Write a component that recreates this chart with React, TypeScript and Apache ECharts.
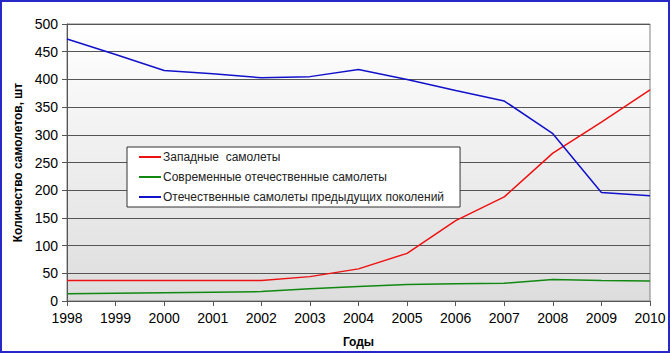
import React, { useEffect, useRef } from "react";
import * as echarts from "echarts";

const years = ["1998", "1999", "2000", "2001", "2002", "2003", "2004", "2005", "2006", "2007", "2008", "2009", "2010"];
const western = [37, 37, 37, 37, 37, 44, 58, 86, 145, 188, 267, 323, 381];
const modernDomestic = [13, 14, 15, 16, 17, 22, 26, 30, 31, 32, 39, 37, 36];
const oldDomestic = [473, 445, 416, 410, 403, 405, 418, 400, 380, 361, 302, 196, 190];
const yTicks = [0, 50, 100, 150, 200, 250, 300, 350, 400, 450, 500];

const seriesNames = [
  "Западные  самолеты",
  "Современные отечественные самолеты",
  "Отечественные самолеты предыдущих поколений",
];
const seriesColors = ["#ee1111", "#118811", "#1111cc"];

export default function App() {
  const ref = useRef<HTMLDivElement>(null);
  useEffect(() => {
    const chart = echarts.init(ref.current!, null, { renderer: "svg" });
    const font = "Arial, 'Liberation Sans', sans-serif";
    const data = [western, modernDomestic, oldDomestic];
    chart.setOption({
      animation: false,
      backgroundColor: "#ffffff",
      textStyle: { fontFamily: font },
      grid: {
        left: 67,
        right: 20,
        top: 24,
        bottom: 52,
        show: true,
        borderColor: "#808080",
        borderWidth: 1,
        backgroundColor: new echarts.graphic.LinearGradient(0, 0, 0, 1, [
          { offset: 0, color: "#ffffff" },
          { offset: 1, color: "#dddddd" },
        ]),
      },
      graphic: [
        {
          type: "rect",
          shape: { x: 1, y: 1, width: 668, height: 351 },
          style: { fill: "none", stroke: "#2828c8", lineWidth: 2 },
          silent: true,
          z: 100,
        },
      ],
      legend: {
        orient: "vertical",
        left: 127,
        top: 147,
        backgroundColor: "#ffffff",
        borderColor: "#333333",
        borderWidth: 1,
        borderRadius: 0,
        padding: [4, 16, 4, 12],
        itemGap: 8,
        itemWidth: 22,
        itemHeight: 2,
        icon: "rect",
        textStyle: { fontSize: 12, color: "#222222", fontFamily: font, padding: [0, 0, 0, -3] },
        data: seriesNames.map((n) => ({ name: n })),
      },
      xAxis: {
        type: "category",
        data: years,
        boundaryGap: false,
        name: "Годы",
        nameLocation: "middle",
        nameGap: 35,
        nameTextStyle: { fontSize: 12, fontWeight: "bold", color: "#000", fontFamily: font },
        axisLine: { lineStyle: { color: "#555555", width: 1 } },
        axisTick: { show: true, length: 5, alignWithLabel: true, lineStyle: { color: "#555555" } },
        axisLabel: { fontSize: 14, color: "#000", margin: 10, fontFamily: font },
        splitLine: { show: false },
      },
      yAxis: {
        type: "value",
        min: yTicks[0],
        max: yTicks[yTicks.length - 1],
        interval: 50,
        name: "Количество самолетов, шт",
        nameLocation: "middle",
        nameGap: 40,
        nameTextStyle: { fontSize: 12, fontWeight: "bold", color: "#000", fontFamily: font },
        axisLine: { show: true, lineStyle: { color: "#555555", width: 1 } },
        axisTick: { show: true, length: 5, lineStyle: { color: "#555555" } },
        axisLabel: { fontSize: 14, color: "#000", margin: 9, fontFamily: font },
        splitLine: { show: true, lineStyle: { color: "#555555", width: 1 } },
      },
      series: seriesNames.map((name, i) => ({
        name,
        type: "line",
        data: data[i],
        symbol: "none",
        smooth: false,
        lineStyle: { color: seriesColors[i], width: 1.5 },
        itemStyle: { color: seriesColors[i] },
      })),
    });
    return () => chart.dispose();
  }, []);
  return <div ref={ref} style={{ width: 670, height: 353, position: "absolute", left: 0, top: 0 }} />;
}
